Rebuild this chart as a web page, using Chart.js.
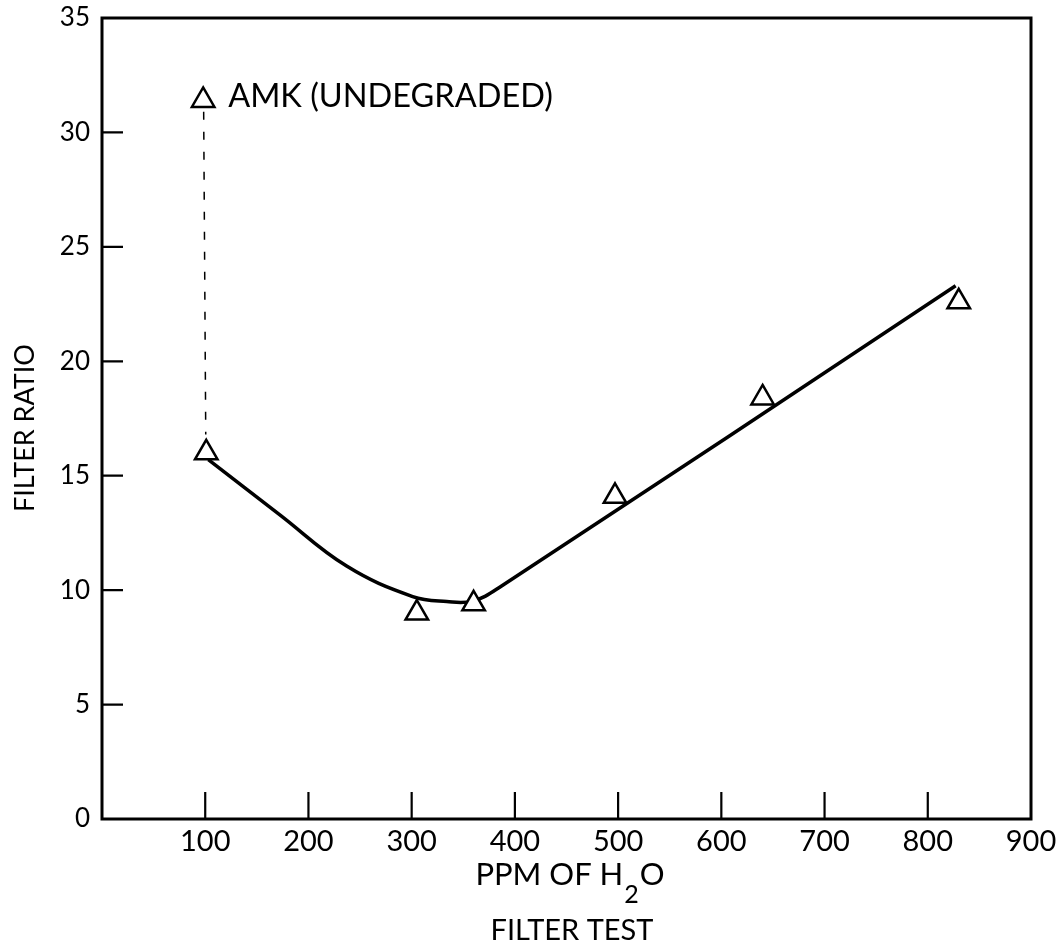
<!DOCTYPE html>
<html>
<head>
<meta charset="utf-8">
<title>Filter Test</title>
<script src="https://cdn.jsdelivr.net/npm/chart.js@4/dist/chart.umd.min.js"></script>
<style>
  html, body { margin: 0; padding: 0; background: #fff; }
  canvas { display: block; }
</style>
</head>
<body>
<canvas id="filter-chart" width="1061" height="948"></canvas>
<script>
// measured filter ratios vs. water content
var ppmH2O = [101, 305, 360, 497, 640, 830];
var filterRatio = [16.0, 9.0, 9.4, 14.1, 18.4, 22.6];

// undegraded AMK reference point
var amkPpm = [98];
var amkRatio = [31.4];

// trend curve drawn through the measurements
var curvePpm = [103, 172, 237, 301, 334, 359, 386, 827];
var curveRatio = [15.7, 13.3, 11.05, 9.72, 9.5, 9.52, 10.15, 23.3];

// dashed drop from AMK down to the first measurement
var dropPpm = [98.5, 100.5];
var dropRatio = [30.9, 16.8];

// axis ticks
var xTicks = [0, 100, 200, 300, 400, 500, 600, 700, 800, 900];
var yTicks = [0, 5, 10, 15, 20, 25, 30, 35];

var FONT = "Lato, 'Open Sans', sans-serif";

function toXY(xs, ys) {
  return xs.map(function (v, i) { return { x: v, y: ys[i] }; });
}

// frame, inward tick marks, axis titles and the AMK label
var framePlugin = {
  id: 'frame',
  beforeDatasetsDraw: function (chart) {
    var ctx = chart.ctx, a = chart.chartArea;
    var xs = chart.scales.x, ys = chart.scales.y;
    ctx.save();
    ctx.strokeStyle = '#000';
    ctx.lineWidth = 3;
    ctx.strokeRect(a.left, a.top, a.right - a.left, a.bottom - a.top);
    ctx.lineWidth = 2.2;
    ctx.beginPath();
    xTicks.forEach(function (v) {
      if (v > xs.min && v < xs.max) {
        var px = xs.getPixelForValue(v);
        ctx.moveTo(px, a.bottom);
        ctx.lineTo(px, a.bottom - 27);
      }
    });
    yTicks.forEach(function (v) {
      if (v > ys.min && v < ys.max) {
        var py = ys.getPixelForValue(v);
        ctx.moveTo(a.left, py);
        ctx.lineTo(a.left + 21, py);
      }
    });
    ctx.stroke();
    ctx.restore();
  },
  afterDraw: function (chart) {
    var ctx = chart.ctx;
    ctx.save();
    ctx.fillStyle = '#000';
    ctx.textBaseline = 'alphabetic';

    // y title
    ctx.save();
    ctx.translate(34, 428);
    ctx.rotate(-Math.PI / 2);
    ctx.font = '27px ' + FONT;
    ctx.textAlign = 'center';
    ctx.fillText('FILTER RATIO', 0, 0);
    ctx.restore();

    // x title with subscript
    ctx.textAlign = 'left';
    var p1 = 'PPM OF H', p3 = 'O';
    ctx.font = '31px ' + FONT;
    var w1 = ctx.measureText(p1).width;
    var w3 = ctx.measureText(p3).width;
    ctx.font = '25px ' + FONT;
    var w2 = ctx.measureText('2').width;
    var x0 = 570 - (w1 + w2 + w3 + 2) / 2;
    ctx.font = '31px ' + FONT;
    ctx.fillText(p1, x0, 885);
    ctx.font = '25px ' + FONT;
    ctx.fillText('2', x0 + w1 + 1, 903);
    ctx.font = '31px ' + FONT;
    ctx.fillText(p3, x0 + w1 + w2 + 2, 885);

    ctx.textAlign = 'center';
    ctx.font = '29px ' + FONT;
    ctx.fillText('FILTER TEST', 572, 940);

    // AMK label next to its marker
    var pt = chart.getDatasetMeta(2).data[0];
    ctx.textAlign = 'left';
    ctx.font = '32.5px ' + FONT;
    ctx.fillText('AMK (UNDEGRADED)', pt.x + 25, pt.y + 7);
    ctx.restore();
  }
};

var ctx = document.getElementById('filter-chart').getContext('2d');

var chart = new Chart(ctx, {
  type: 'scatter',
  data: {
    datasets: [
      {
        // trend curve
        type: 'line',
        data: toXY(curvePpm, curveRatio),
        borderColor: '#000',
        borderWidth: 3.5,
        pointRadius: 0,
        tension: 0.4,
        fill: false,
        order: 3
      },
      {
        // measured points
        data: toXY(ppmH2O, filterRatio),
        pointStyle: 'triangle',
        pointRadius: 13,
        pointBackgroundColor: '#fff',
        pointBorderColor: '#000',
        pointBorderWidth: 2.5,
        order: 1
      },
      {
        // AMK (undegraded)
        data: toXY(amkPpm, amkRatio),
        pointStyle: 'triangle',
        pointRadius: 13,
        pointBackgroundColor: '#fff',
        pointBorderColor: '#000',
        pointBorderWidth: 2.5,
        order: 1
      },
      {
        // dashed drop line
        type: 'line',
        data: toXY(dropPpm, dropRatio),
        borderColor: '#000',
        borderWidth: 1.5,
        borderDash: [8, 12],
        pointRadius: 0,
        fill: false,
        order: 2
      }
    ]
  },
  options: {
    responsive: false,
    animation: false,
    layout: { padding: { top: 18, right: 30, left: 0, bottom: 0 } },
    plugins: {
      legend: { display: false },
      tooltip: { enabled: false }
    },
    scales: {
      x: {
        type: 'linear',
        min: 0,
        max: 900,
        grid: { display: false, drawTicks: false },
        border: { display: false },
        afterBuildTicks: function (scale) {
          scale.ticks = xTicks.map(function (v) { return { value: v }; });
        },
        afterFit: function (scale) {
          scale.height = 129;
          scale.paddingLeft = 0;
          scale.paddingRight = 0;
        },
        ticks: {
          color: '#000',
          padding: 5,
          maxRotation: 0,
          font: { family: FONT, size: 29 },
          callback: function (v) { return v === 0 ? '' : v; }
        }
      },
      y: {
        min: 0,
        max: 35,
        grid: { display: false, drawTicks: false },
        border: { display: false },
        afterBuildTicks: function (scale) {
          scale.ticks = yTicks.map(function (v) { return { value: v }; });
        },
        afterFit: function (scale) {
          scale.width = 102;
          scale.paddingTop = 0;
          scale.paddingBottom = 0;
        },
        ticks: {
          color: '#000',
          padding: 12,
          font: { family: FONT, size: 26 }
        }
      }
    }
  },
  plugins: [framePlugin]
});
</script>
</body>
</html>
